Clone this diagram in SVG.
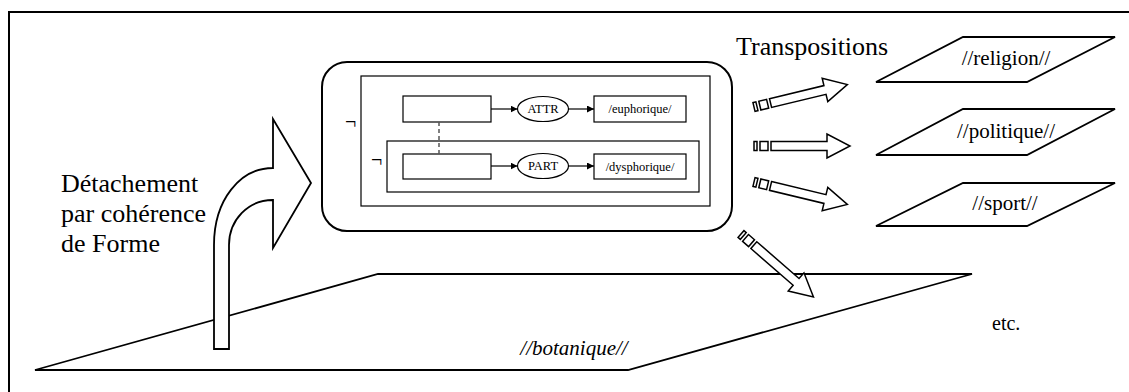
<svg xmlns="http://www.w3.org/2000/svg" width="1129" height="392" viewBox="0 0 1129 392" font-family="'Liberation Serif', 'Times New Roman', 'DejaVu Serif', serif">
<defs>
<style>
text{font-family:'Liberation Serif','Times New Roman','DejaVu Serif',serif;fill:#000}
.big{font-size:26px}
.lab{font-size:21px}
.sm{font-size:12.5px}
.th{fill:#fff;stroke:#000;stroke-width:1.2}
.sh{fill:#fff;stroke:#000;stroke-width:1.8;stroke-linejoin:miter}
.ln{stroke:#000;stroke-width:1.2;fill:none}
.blk{fill:#fff;stroke:#000;stroke-width:1.5;stroke-linejoin:miter}
</style>
<marker id="ah" viewBox="0 0 10 10" refX="10" refY="5" markerWidth="7" markerHeight="7" markerUnits="userSpaceOnUse" orient="auto">
<path d="M0,0 L10,5 L0,10 z" fill="#000"/>
</marker>
<g id="sarrow">
<rect x="0" y="-4.5" width="3" height="9" class="blk"/>
<rect x="6" y="-4.5" width="8" height="9" class="blk"/>
<polygon points="17,-4.5 73,-4.5 73,-12 96,0 73,12 73,4.5 17,4.5" class="blk"/>
</g>
</defs>
<rect x="0" y="0" width="1129" height="392" fill="#fff"/>
<rect id="frame" x="9" y="12" width="1200" height="500" fill="none" stroke="#000" stroke-width="2"/>

<g id="botanique">
<polygon points="35,370 378,274 972,274 628,370" class="sh"/>
<text x="574" y="355" class="lab" text-anchor="middle" font-style="italic">//botanique//</text>
</g>

<g id="religion">
<polygon points="876,82 963,37 1115,37 1027,82" class="sh"/>
<text x="1006" y="65" class="lab" text-anchor="middle">//religion//</text>
</g>
<g id="politique">
<polygon points="876,155 963,109 1115,109 1027,155" class="sh"/>
<text x="1006" y="138" class="lab" text-anchor="middle">//politique//</text>
</g>
<g id="sport">
<polygon points="876,226 963,183 1115,183 1027,226" class="sh"/>
<text x="1005" y="210" class="lab" text-anchor="middle">//sport//</text>
</g>

<g id="labels">
<text x="736" y="55" class="big">Transpositions</text>
<text class="big"><tspan x="61" y="192">Détachement</tspan><tspan x="61" y="222">par cohérence</tspan><tspan x="61" y="252">de Forme</tspan></text>
<text x="992" y="330" font-size="20">etc.</text>
</g>

<g id="structure">
<rect x="322" y="62" width="410" height="169" rx="25" ry="25" fill="#fff" stroke="#000" stroke-width="2"/>
<rect x="361" y="76" width="349" height="130" class="th"/>
<rect x="387" y="141" width="312" height="51" class="th"/>
<text x="345" y="129" font-size="20">¬</text>
<text x="371" y="167" font-size="20">¬</text>
</g>
<g id="box1"><rect x="403" y="96" width="88" height="26" class="th"/></g>
<g id="attr"><ellipse cx="543" cy="109" rx="25.5" ry="12.5" class="th"/><text x="543" y="113" class="sm" text-anchor="middle">ATTR</text></g>
<g id="euphorique"><rect x="594" y="96" width="92" height="26" class="th"/><text x="640" y="113" class="sm" text-anchor="middle">/euphorique/</text></g>
<g id="box2"><rect x="403" y="154" width="88" height="25" class="th"/></g>
<g id="part"><ellipse cx="543" cy="166" rx="25.5" ry="12.5" class="th"/><text x="543" y="170" class="sm" text-anchor="middle">PART</text></g>
<g id="dysphorique"><rect x="594" y="154" width="92" height="25" class="th"/><text x="640" y="171" class="sm" text-anchor="middle">/dysphorique/</text></g>

<g id="connectors">
<line x1="491" y1="109" x2="517.5" y2="109" class="ln" marker-end="url(#ah)"/>
<line x1="568.5" y1="109" x2="594" y2="109" class="ln" marker-end="url(#ah)"/>
<line x1="491" y1="166" x2="517.5" y2="166" class="ln" marker-end="url(#ah)"/>
<line x1="568.5" y1="166" x2="594" y2="166" class="ln" marker-end="url(#ah)"/>
<line x1="439" y1="122" x2="439" y2="154" stroke="#555" stroke-width="1.5" stroke-dasharray="4,3"/>
<path d="M214,349 L214,245 C214,200 240,168 273,168 L273,119 L311,183 L273,248 L273,200 C248,200 229,220 229,245 L229,349 Z" class="sh"/>
<use href="#sarrow" transform="translate(754,107) rotate(-13.5)"/>
<use href="#sarrow" transform="translate(754,146)"/>
<use href="#sarrow" transform="translate(754,182) rotate(13.5)"/>
<use href="#sarrow" transform="translate(741,234) rotate(41)"/>
</g>
</svg>
